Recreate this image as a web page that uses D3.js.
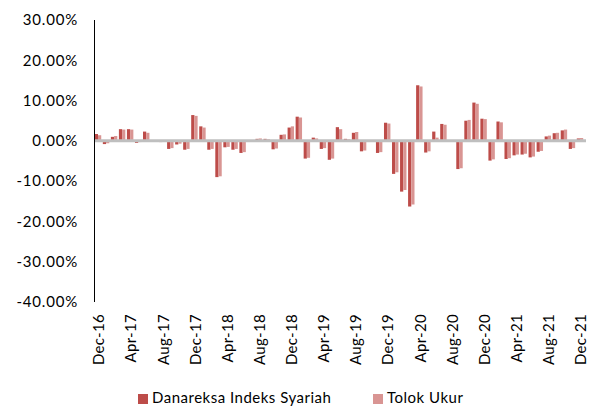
<!DOCTYPE html>
<html>
<head>
<meta charset="utf-8">
<script src="https://cdn.jsdelivr.net/npm/d3@7"></script>
<style>
  body { margin: 0; background: #fff; }
  svg text { font-family: Lato, "Open Sans", sans-serif; fill: #000; }
</style>
</head>
<body>
<svg id="chart" width="595" height="407"></svg>
<script>
// months Dec-16 .. Dec-21
const months = ['Dec-16','Jan-17','Feb-17','Mar-17','Apr-17','May-17','Jun-17','Jul-17','Aug-17','Sep-17','Oct-17','Nov-17',
  'Dec-17','Jan-18','Feb-18','Mar-18','Apr-18','May-18','Jun-18','Jul-18','Aug-18','Sep-18','Oct-18','Nov-18',
  'Dec-18','Jan-19','Feb-19','Mar-19','Apr-19','May-19','Jun-19','Jul-19','Aug-19','Sep-19','Oct-19','Nov-19',
  'Dec-19','Jan-20','Feb-20','Mar-20','Apr-20','May-20','Jun-20','Jul-20','Aug-20','Sep-20','Oct-20','Nov-20',
  'Dec-20','Jan-21','Feb-21','Mar-21','Apr-21','May-21','Jun-21','Jul-21','Aug-21','Sep-21','Oct-21','Nov-21','Dec-21'];

// Danareksa Indeks Syariah (%)
const fundValues = [1.7, -0.8, 1.0, 2.9, 2.9, -0.5, 2.3, 0.1, -0.3, -2.0, -0.9, -2.2,
  6.4, 3.6, -2.2, -9.0, -1.6, -2.2, -3.0, 0.1, 0.5, 0.5, -2.1, 1.5,
  3.3, 6.0, -4.4, 0.8, -2.0, -4.7, 3.4, 0.5, 2.0, -2.6, 0.1, -3.0,
  4.5, -8.2, -12.6, -16.3, 13.8, -2.9, 2.3, 4.2, 0.1, -7.0, 5.0, 9.5,
  5.5, -4.9, 4.8, -4.5, -3.6, -3.4, -4.1, -2.7, 1.1, 1.9, 2.6, -2.0, 0.6];

// Tolok Ukur (%)
const benchValues = [1.4, -0.6, 1.2, 2.8, 2.8, -0.3, 2.0, 0.0, -0.2, -1.8, -0.7, -2.0,
  6.2, 3.3, -2.0, -8.8, -1.5, -2.0, -2.8, 0.1, 0.6, 0.4, -1.9, 1.6,
  3.6, 5.8, -4.2, 0.6, -1.8, -4.4, 2.9, 0.4, 2.2, -2.4, 0.0, -2.8,
  4.3, -7.8, -12.2, -15.8, 13.5, -2.6, 0.8, 4.0, 0.0, -6.8, 5.2, 9.2,
  5.4, -4.6, 4.6, -4.3, -3.4, -3.2, -3.9, -2.5, 1.3, 2.0, 2.8, -1.8, 0.7];

const yTicks = [30, 20, 10, 0, -10, -20, -30, -40];
const seriesNames = ['Danareksa Indeks Syariah', 'Tolok Ukur'];
const seriesColors = ['#bd4c49', '#d99593'];

const svg = d3.select('#chart');

const x = d3.scaleBand().domain(months).range([94, 584]);
const y = d3.scaleLinear().domain([-40, 30]).range([302, 20]);

// bars
const groups = svg.append('g');
const barW = x.bandwidth() * 0.4;
[fundValues, benchValues].forEach((vals, s) => {
  groups.selectAll('.bar' + s)
    .data(vals)
    .join('rect')
      .attr('class', 'bar' + s)
      .attr('x', (d, i) => x(months[i]) + x.bandwidth() * 0.1 + s * barW)
      .attr('width', barW)
      .attr('y', d => Math.min(y(d), y(0)))
      .attr('height', d => Math.abs(y(d) - y(0)))
      .attr('fill', seriesColors[s]);
});

// zero line
svg.append('line')
  .attr('x1', 94).attr('x2', 586)
  .attr('y1', y(0)).attr('y2', y(0))
  .attr('stroke', '#bfbfbf').attr('stroke-width', 3);

// y axis
svg.append('line')
  .attr('x1', 94.5).attr('x2', 94.5)
  .attr('y1', y(30)).attr('y2', y(-40))
  .attr('stroke', '#000').attr('stroke-width', 1);

svg.selectAll('.ylab')
  .data(yTicks)
  .join('text')
    .attr('class', 'ylab')
    .attr('x', 78)
    .attr('y', d => y(d))
    .attr('dy', '0.35em')
    .attr('text-anchor', 'end')
    .style('font-size', '15px')
    .style('letter-spacing', '0.8px')
    .text(d => d.toFixed(2) + '%');

// x labels every 4 months
const xLabels = months.filter((m, i) => i % 4 === 0);
svg.selectAll('.xlab')
  .data(xLabels)
  .join('text')
    .attr('class', 'xlab')
    .attr('transform', d => `translate(${x(d) + x.bandwidth() / 2 + 1}, 314) rotate(-90)`)
    .attr('dy', '0.35em')
    .attr('text-anchor', 'end')
    .style('font-size', '15px')
    .style('letter-spacing', '0.3px')
    .text(d => d);

// legend
const legend = svg.append('g');
const legendX = [138, 373];
seriesNames.forEach((name, s) => {
  legend.append('rect')
    .attr('x', legendX[s]).attr('y', 394)
    .attr('width', 10).attr('height', 10)
    .attr('fill', seriesColors[s]);
  legend.append('text')
    .attr('x', legendX[s] + 14).attr('y', 403)
    .style('font-size', '15px')
    .style('letter-spacing', '0.5px')
    .text(name);
});
</script>
</body>
</html>
